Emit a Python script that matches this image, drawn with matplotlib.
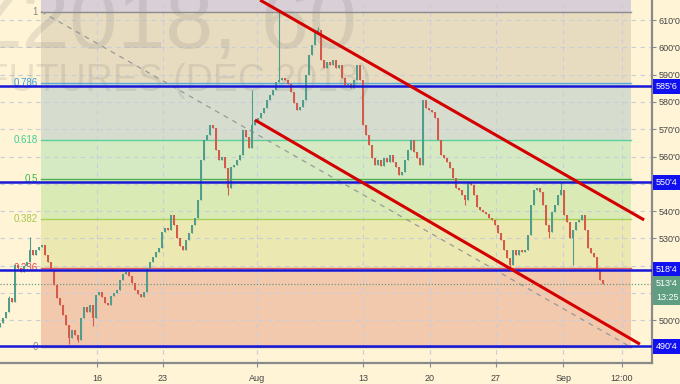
import matplotlib.pyplot as plt
import matplotlib.transforms as mtransforms
import numpy as np

# hourly closes, one value every ~4 bars (ZCZ2018, 60)
closes = [499.0, 500.8, 503.0, 508.2, 506.7, 520.3, 519.2, 517.7, 519.9, 521.4,
          525.8, 523.9, 525.8, 526.9, 527.6, 523.9, 521.4, 518.4, 512.9, 508.2,
          505.6, 501.9, 498.3, 493.5, 496.4, 494.6, 492.8, 500.8, 504.9, 503.0,
          505.6, 500.8, 509.3, 510.4, 508.6, 506.4, 505.6, 508.9, 510.0, 511.1,
          514.8, 517.0, 517.7, 516.2, 513.7, 511.1, 509.6, 508.6, 510.4, 519.2,
          521.4, 523.2, 525.0, 526.5, 532.3, 533.8, 533.1, 538.6, 534.9, 530.2,
          527.2, 525.8, 529.4, 532.0, 534.9, 537.5, 544.1, 558.7, 566.0, 567.9,
          571.5, 570.4, 562.4, 558.7, 559.8, 555.8, 548.5, 556.2, 556.9, 558.7,
          560.6, 569.7, 567.2, 563.1, 571.5, 573.4, 574.1, 575.9, 577.8, 580.7,
          582.5, 584.4, 587.3, 588.0, 588.8, 588.0, 586.6, 583.6, 579.6, 577.0,
          578.1, 580.7, 589.9, 597.2, 600.8, 605.2, 606.3, 595.4, 592.4, 594.6,
          593.5, 595.4, 592.4, 593.5, 588.8, 586.2, 586.6, 585.1, 588.0, 593.5,
          588.0, 571.5, 567.9, 564.2, 559.4, 556.9, 558.7, 556.5, 559.4, 558.0,
          560.6, 558.0, 556.2, 553.2, 554.3, 558.7, 562.4, 566.0, 561.7, 559.4,
          556.9, 580.7, 577.8, 577.0, 576.3, 574.1, 566.0, 560.6, 559.4, 558.0,
          555.8, 552.1, 548.5, 547.7, 545.9, 544.1, 550.6, 549.6, 545.9, 541.5,
          540.4, 539.7, 538.9, 537.5, 536.8, 534.9, 532.0, 529.4, 525.8, 522.8,
          520.3, 525.8, 523.9, 525.8, 525.0, 525.8, 531.2, 542.2, 547.7, 548.5,
          547.0, 542.2, 534.9, 532.3, 539.7, 542.2, 545.9, 547.7, 538.6, 536.1,
          530.2, 533.1, 536.1, 536.8, 538.6, 533.1, 526.5, 524.6, 523.4, 518.4,
          514.8, 513.5]
first_open = 497.5
spike_high = {3: 508.8, 10: 530.5, 84: 584.4, 93: 613.0, 106: 607.4, 187: 550.6}
spike_low = {23: 491.3, 26: 492.0, 31: 497.8, 76: 545.9, 155: 542.2, 170: 519.2, 183: 530.2, 191: 520.3}

# date axis labels (bar index positions)
tick_pos = [32.3, 54.3, 85.7, 121.0, 143.3, 165.3, 187.7, 207.3]
tick_lbl = ['16', '23', 'Aug', '13', '20', '27', 'Sep', '12:00']

# fib retracement
fib_low, fib_high = 490.2, 613.1
fib_x = [13.7, 210.3]
fib_ratios = [0, 0.236, 0.382, 0.5, 0.618, 0.786, 1, 1.618]
fib_band_colors = ['#f3c9ae', '#ebe8b2', '#d9eab4', '#d5eac3', '#d6ddcf', '#e8dcc0', '#d9cfd6']
fib_line_colors = ['#8c8c8c', '#e05555', '#a8d15a', '#4caf50', '#5ccf9c', '#5aa9d6', '#8c8c8c']
fib_text_colors = ['#8c8c8c', '#e04848', '#a8c84c', '#3ab54a', '#3ecf95', '#3d9fe0', '#8c8c8c']

# horizontal levels and trend channel
levels = [585.75, 550.5, 518.5, 490.5]
level_lbl = ["585'6", "550'4", "518'4", "490'4"]
upper_ch = ([86.7, 214.7], [617.3, 536.8])
lower_ch = ([85.0, 213.3], [573.4, 491.3])
last_price, last_lbl, countdown = 513.5, "513'4", '13:25'

price_ticks = [500, 530, 540, 560, 570, 580, 590, 600, 610]
grid_prices = list(range(500, 620, 10))

bg = '#fff4d6'
up_col, dn_col = '#4f9d8a', '#d45a4a'

fig = plt.figure(figsize=(6.8, 3.84), dpi=100, facecolor=bg)
ax = fig.add_axes([0, 21 / 384, 652 / 680, 363 / 384])
ax.set_facecolor(bg)
ax.set_xlim(0, 652 / 3)
ax.set_ylim(484.4, 617.33)

# fib bands and lines
for k in range(len(fib_ratios) - 1):
    lo = fib_low + fib_ratios[k] * (fib_high - fib_low)
    hi = fib_low + fib_ratios[k + 1] * (fib_high - fib_low)
    ax.fill_between(fib_x, lo, hi, color=fib_band_colors[k], lw=0, zorder=0.2)
    ax.plot(fib_x, [lo, lo], color=fib_line_colors[k], lw=1, zorder=1)
    txt = ('%.3f' % fib_ratios[k]).rstrip('0').rstrip('.')
    ax.text(fib_x[0] - 1.1, lo, txt, ha='right', va='center', fontsize=7,
            color=fib_text_colors[k], zorder=1, family='Liberation Sans')
ax.plot(fib_x, [fib_high, fib_low], color='#999999', lw=0.9, ls=(0, (4, 4)), zorder=1)

# grid
for p in grid_prices:
    ax.axhline(p, color='#c9cdd8', lw=0.8, ls=(0, (4, 4)), zorder=0.5)
for t in tick_pos:
    ax.axvline(t, color='#c9cdd8', lw=0.8, ls=(0, (4, 4)), zorder=0.5)

# watermark
ax.text(357 / 680, 1 - 48 / 384, 'ZCZ2018, 60', transform=fig.transFigure, ha='right',
        va='baseline', fontsize=62, color='#7a7a7a', alpha=0.17, zorder=0.6,
        family='Liberation Sans')
ax.text(371 / 680, 1 - 91 / 384, 'CORN FUTURES (DEC 2018)', transform=fig.transFigure,
        ha='right', va='baseline', fontsize=27, color='#7a7a7a', alpha=0.17, zorder=0.6,
        family='Liberation Sans')

# candles
c = np.array(closes)
o = np.concatenate([[first_open], c[:-1]])
idx = np.arange(len(c))
hi = np.maximum(o, c)
lo = np.minimum(o, c)
for i, v in spike_high.items():
    hi[i] = max(hi[i], v)
for i, v in spike_low.items():
    lo[i] = min(lo[i], v)
cols = np.where(c >= o, up_col, dn_col)
ax.vlines(idx, lo, hi, colors=cols, lw=0.8, zorder=3)
body = np.where(np.abs(c - o) < 0.4, 0.4, c - o)
ax.bar(idx, body, bottom=o, width=0.55, color=cols, lw=0, zorder=3)

# last price line
ax.axhline(last_price, color='#6a9a80', lw=0.9, ls=(0, (1, 1.5)), zorder=2)

# horizontal levels
for p in levels:
    ax.axhline(p, color='#1717d8', lw=1.8, zorder=4)

# channel
ax.plot(*upper_ch, color='#d40000', lw=2.2, zorder=5, solid_capstyle='butt')
ax.plot(*lower_ch, color='#d40000', lw=2.2, zorder=5, solid_capstyle='butt')

# axes styling
for s in ['left', 'top']:
    ax.spines[s].set_visible(False)
for s in ['right', 'bottom']:
    ax.spines[s].set_color('#8a8a8a')
    ax.spines[s].set_linewidth(1.6)
ax.yaxis.tick_right()
ax.set_yticks(price_ticks)
ax.set_yticklabels(["%d'0" % p for p in price_ticks])
ax.set_xticks(tick_pos)
ax.set_xticklabels(tick_lbl)
ax.tick_params(axis='both', labelsize=6.5, colors='#8a8a8a', labelcolor='#444444',
               length=3, width=0.8, pad=2)
ax.tick_params(axis='x', pad=5)
for lab in ax.get_xticklabels() + ax.get_yticklabels():
    lab.set_family('Liberation Sans')

# right-axis price boxes
trans = mtransforms.blended_transform_factory(ax.transAxes, ax.transData)
for p, s in zip(levels, level_lbl):
    ax.text(1.006, p, s, transform=trans, ha='left', va='center', fontsize=6.5,
            color='white', family='Liberation Sans', zorder=6, clip_on=False,
            bbox=dict(boxstyle='square,pad=0.35', fc='#1010f0', ec='none'))
ax.text(1.006, last_price, last_lbl, transform=trans, ha='left', va='center', fontsize=6.5,
        color='white', family='Liberation Sans', zorder=6, clip_on=False,
        bbox=dict(boxstyle='square,pad=0.35', fc='#5f9e80', ec='none'))
ax.annotate(countdown, xy=(1.006, last_price), xycoords=trans, xytext=(0, -10),
            textcoords='offset points', ha='left', va='center', fontsize=6.5,
            color='white', family='Liberation Sans', zorder=6, annotation_clip=False,
            bbox=dict(boxstyle='square,pad=0.35', fc='#5f9e80', ec='none'))

fig.savefig('out.png', dpi=100, facecolor=bg)
